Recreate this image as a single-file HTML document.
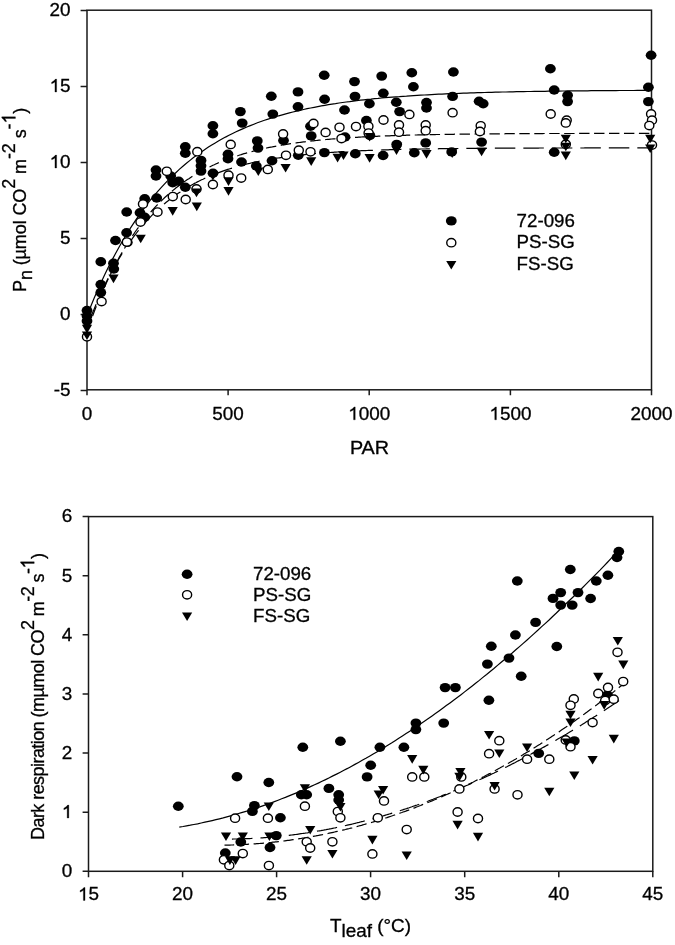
<!DOCTYPE html>
<html><head><meta charset="utf-8"><title>chart</title>
<style>html,body{margin:0;padding:0;background:#fff;}svg{display:block;filter:blur(0.35px);}</style>
</head><body>
<svg width="675" height="945" viewBox="0 0 675 945">
<rect width="675" height="945" fill="#fff"/>
<rect x="87" y="10.2" width="564.5" height="379.6" stroke="#1a1a1a" stroke-width="1.5" fill="none"/>
<path d="M80.6,390.4H87 M80.6,314.4H87 M80.6,238.4H87 M80.6,162.4H87 M80.6,86.4H87 M80.6,10.4H87 M87.0,389.8V395.3 M228.1,389.8V395.3 M369.2,389.8V395.3 M510.4,389.8V395.3 M651.5,389.8V395.3" stroke="#1a1a1a" stroke-width="1.5" fill="none"/>
<rect x="88.5" y="516.6" width="564.3" height="354.7" stroke="#1a1a1a" stroke-width="1.5" fill="none"/>
<path d="M82.6,871.3H88.5 M82.6,812.2H88.5 M82.6,753.1H88.5 M82.6,693.9H88.5 M82.6,634.8H88.5 M82.6,575.7H88.5 M82.6,516.6H88.5 M88.5,871.3V877.2 M182.6,871.3V877.2 M276.6,871.3V877.2 M370.6,871.3V877.2 M464.7,871.3V877.2 M558.8,871.3V877.2 M652.8,871.3V877.2" stroke="#1a1a1a" stroke-width="1.5" fill="none"/>
<path d="M87.0,315.7 L90.6,306.8 L94.1,298.2 L97.7,290.0 L101.2,282.2 L104.8,274.6 L108.3,267.3 L111.9,260.4 L115.4,253.7 L119.0,247.2 L122.5,241.0 L126.1,235.1 L129.6,229.4 L133.2,223.9 L136.7,218.6 L140.3,213.6 L143.8,208.7 L147.4,204.0 L150.9,199.5 L154.5,195.2 L158.0,191.1 L161.6,187.1 L165.1,183.3 L168.7,179.6 L172.2,176.1 L175.8,172.7 L179.3,169.4 L182.9,166.3 L186.4,163.3 L190.0,160.4 L193.5,157.6 L197.1,155.0 L200.6,152.4 L204.2,150.0 L207.7,147.6 L211.3,145.3 L214.8,143.2 L218.4,141.1 L221.9,139.1 L225.5,137.1 L229.0,135.3 L232.6,133.5 L236.1,131.8 L239.7,130.1 L243.2,128.6 L246.8,127.0 L250.3,125.6 L253.9,124.2 L257.4,122.8 L261.0,121.5 L264.5,120.3 L268.1,119.1 L271.6,118.0 L275.2,116.9 L278.7,115.8 L282.3,114.8 L285.8,113.8 L289.4,112.9 L292.9,112.0 L296.5,111.1 L300.0,110.3 L303.6,109.5 L307.1,108.7 L310.7,108.0 L314.2,107.3 L317.8,106.6 L321.3,105.9 L324.9,105.3 L328.4,104.7 L332.0,104.1 L335.5,103.6 L339.1,103.0 L342.6,102.5 L346.2,102.0 L349.7,101.6 L353.3,101.1 L356.8,100.7 L360.4,100.2 L363.9,99.8 L367.5,99.4 L371.0,99.1 L374.6,98.7 L378.1,98.4 L381.7,98.0 L385.2,97.7 L388.8,97.4 L392.3,97.1 L395.9,96.8 L399.4,96.6 L403.0,96.3 L406.5,96.1 L410.1,95.8 L413.6,95.6 L417.2,95.4 L420.7,95.2 L424.3,95.0 L427.8,94.8 L431.4,94.6 L434.9,94.4 L438.5,94.2 L442.0,94.1 L445.6,93.9 L449.1,93.7 L452.7,93.6 L456.2,93.5 L459.8,93.3 L463.3,93.2 L466.9,93.1 L470.4,92.9 L474.0,92.8 L477.5,92.7 L481.1,92.6 L484.6,92.5 L488.2,92.4 L491.7,92.3 L495.3,92.2 L498.8,92.1 L502.4,92.0 L505.9,92.0 L509.5,91.9 L513.0,91.8 L516.6,91.7 L520.1,91.7 L523.7,91.6 L527.2,91.5 L530.8,91.5 L534.3,91.4 L537.9,91.4 L541.4,91.3 L545.0,91.3 L548.5,91.2 L552.1,91.2 L555.6,91.1 L559.2,91.1 L562.7,91.0 L566.3,91.0 L569.8,90.9 L573.4,90.9 L576.9,90.9 L580.5,90.8 L584.0,90.8 L587.6,90.8 L591.1,90.7 L594.7,90.7 L598.2,90.7 L601.8,90.7 L605.3,90.6 L608.9,90.6 L612.4,90.6 L616.0,90.6 L619.5,90.5 L623.1,90.5 L626.6,90.5 L630.2,90.5 L633.7,90.5 L637.3,90.4 L640.8,90.4 L644.4,90.4 L647.9,90.4 L651.5,90.4" fill="none" stroke="#000" stroke-width="1.2"/>
<path d="M87.0,331.2 L88.4,327.2 L89.8,323.3 L91.2,319.5 L92.7,315.7 L94.1,312.0 L95.5,308.4 L96.9,304.8 L98.3,301.4 L99.7,298.0 L101.1,294.6 L102.6,291.4 L104.0,288.2 L105.4,285.0 L106.8,281.9 L108.2,278.9 L109.6,276.0 L111.1,273.1 L112.5,270.3 L113.9,267.5 L115.3,264.8 L116.7,262.1 L118.1,259.5 L119.5,256.9 L121.0,254.4 L122.4,252.0 L123.8,249.6 L125.2,247.2 L126.6,244.9 L128.0,242.7 L129.4,240.4 L130.9,238.3 L132.3,236.1 L133.7,234.1 L135.1,232.0 L136.5,230.0 L137.9,228.1 L139.3,226.1 L140.8,224.3 L142.2,222.4 L143.6,220.6 L145.0,218.9 L146.4,217.1 L147.8,215.4 L149.3,213.8 L150.7,212.1 L152.1,210.5 L153.5,209.0 L154.9,207.4 L156.3,205.9 L157.7,204.5 L159.2,203.0 L160.6,201.6 L162.0,200.2 L163.4,198.9 L164.8,197.5 L166.2,196.2 L167.6,195.0 L169.1,193.7 L170.5,192.5 L171.9,191.3 L173.3,190.1 L174.7,189.0 L176.1,187.8 L177.5,186.7 L179.0,185.7 L180.4,184.6 L181.8,183.6 L183.2,182.5 L184.6,181.5 L186.0,180.6 L187.4,179.6 L188.9,178.7 L190.3,177.7 L191.7,176.8 L193.1,176.0 L194.5,175.1 L195.9,174.3 L197.4,173.4 L198.8,172.6 L200.2,171.8 L201.6,171.0 L203.0,170.3 L204.4,169.5 L205.8,168.8 L207.3,168.1 L208.7,167.4 L210.1,166.7 L211.5,166.0 L212.9,165.3 L214.3,164.7 L215.7,164.0 L217.2,163.4 L218.6,162.8 L220.0,162.2 L221.4,161.6 L222.8,161.1 L224.2,160.5 L225.6,159.9 L227.1,159.4 L228.5,158.9 L229.9,158.4 L231.3,157.8 L232.7,157.3 L234.1,156.9 L235.6,156.4 L237.0,155.9 L238.4,155.5 L239.8,155.0 L241.2,154.6 L242.6,154.1 L244.0,153.7 L245.5,153.3 L246.9,152.9 L248.3,152.5 L249.7,152.1 L251.1,151.7 L252.5,151.4 L253.9,151.0 L255.4,150.6 L256.8,150.3 L258.2,149.9 L259.6,149.6 L261.0,149.3 L262.4,148.9 L263.8,148.6 L265.3,148.3 L266.7,148.0 L268.1,147.7 L269.5,147.4 L270.9,147.1 L272.3,146.9 L273.8,146.6 L275.2,146.3 L276.6,146.0 L278.0,145.8 L279.4,145.5 L280.8,145.3 L282.2,145.0 L283.7,144.8 L285.1,144.6 L286.5,144.3 L287.9,144.1 L289.3,143.9 L290.7,143.7 L292.1,143.5 L293.6,143.3 L295.0,143.1 L296.4,142.9 L297.8,142.7 L299.2,142.5 L300.6,142.3 L302.0,142.1 L303.5,141.9 L304.9,141.8 L306.3,141.6 L307.7,141.4 L309.1,141.3 L310.5,141.1 L312.0,140.9 L313.4,140.8 L314.8,140.6 L316.2,140.5 L317.6,140.3 L319.0,140.2 L320.4,140.1 L321.9,139.9 L323.3,139.8 L324.7,139.6 L326.1,139.5 L327.5,139.4 L328.9,139.3 L330.3,139.1 L331.8,139.0 L333.2,138.9 L334.6,138.8 L336.0,138.7 L337.4,138.6 L338.8,138.5 L340.2,138.4 L341.7,138.3 L343.1,138.2 L344.5,138.1 L345.9,138.0 L347.3,137.9 L348.7,137.8 L350.2,137.7 L351.6,137.6 L353.0,137.5 L354.4,137.4 L355.8,137.3 L357.2,137.3 L358.6,137.2 L360.1,137.1 L361.5,137.0 L362.9,136.9 L364.3,136.9 L365.7,136.8 L367.1,136.7 L368.5,136.7 L370.0,136.6 L371.4,136.5 L372.8,136.5 L374.2,136.4 L375.6,136.3 L377.0,136.3 L378.4,136.2 L379.9,136.1 L381.3,136.1 L382.7,136.0 L384.1,136.0 L385.5,135.9 L386.9,135.9 L388.3,135.8 L389.8,135.8 L391.2,135.7 L392.6,135.7 L394.0,135.6 L395.4,135.6 L396.8,135.5 L398.3,135.5 L399.7,135.4 L401.1,135.4 L402.5,135.3 L403.9,135.3 L405.3,135.3 L406.7,135.2 L408.2,135.2 L409.6,135.1 L411.0,135.1 L412.4,135.1 L413.8,135.0 L415.2,135.0 L416.6,135.0 L418.1,134.9 L419.5,134.9 L420.9,134.9 L422.3,134.8 L423.7,134.8 L425.1,134.8 L426.5,134.7 L428.0,134.7 L429.4,134.7 L430.8,134.7 L432.2,134.6 L433.6,134.6 L435.0,134.6 L436.5,134.5 L437.9,134.5 L439.3,134.5 L440.7,134.5 L442.1,134.4 L443.5,134.4 L444.9,134.4 L446.4,134.4 L447.8,134.4 L449.2,134.3 L450.6,134.3 L452.0,134.3 L453.4,134.3 L454.8,134.2 L456.3,134.2 L457.7,134.2 L459.1,134.2 L460.5,134.2 L461.9,134.2 L463.3,134.1 L464.7,134.1 L466.2,134.1 L467.6,134.1 L469.0,134.1 L470.4,134.1 L471.8,134.0 L473.2,134.0 L474.7,134.0 L476.1,134.0 L477.5,134.0 L478.9,134.0 L480.3,134.0 L481.7,133.9 L483.1,133.9 L484.6,133.9 L486.0,133.9 L487.4,133.9 L488.8,133.9 L490.2,133.9 L491.6,133.8 L493.0,133.8 L494.5,133.8 L495.9,133.8 L497.3,133.8 L498.7,133.8 L500.1,133.8 L501.5,133.8 L502.9,133.8 L504.4,133.8 L505.8,133.7 L507.2,133.7 L508.6,133.7 L510.0,133.7 L511.4,133.7 L512.9,133.7 L514.3,133.7 L515.7,133.7 L517.1,133.7 L518.5,133.7 L519.9,133.7 L521.3,133.7 L522.8,133.6 L524.2,133.6 L525.6,133.6 L527.0,133.6 L528.4,133.6 L529.8,133.6 L531.2,133.6 L532.7,133.6 L534.1,133.6 L535.5,133.6 L536.9,133.6 L538.3,133.6 L539.7,133.6 L541.1,133.6 L542.6,133.6 L544.0,133.5 L545.4,133.5 L546.8,133.5 L548.2,133.5 L549.6,133.5 L551.1,133.5 L552.5,133.5 L553.9,133.5 L555.3,133.5 L556.7,133.5 L558.1,133.5 L559.5,133.5 L561.0,133.5 L562.4,133.5 L563.8,133.5 L565.2,133.5 L566.6,133.5 L568.0,133.5 L569.4,133.5 L570.9,133.5 L572.3,133.5 L573.7,133.5 L575.1,133.5 L576.5,133.4 L577.9,133.4 L579.3,133.4 L580.8,133.4 L582.2,133.4 L583.6,133.4 L585.0,133.4 L586.4,133.4 L587.8,133.4 L589.2,133.4 L590.7,133.4 L592.1,133.4 L593.5,133.4 L594.9,133.4 L596.3,133.4 L597.7,133.4 L599.2,133.4 L600.6,133.4 L602.0,133.4 L603.4,133.4 L604.8,133.4 L606.2,133.4 L607.6,133.4 L609.1,133.4 L610.5,133.4 L611.9,133.4 L613.3,133.4 L614.7,133.4 L616.1,133.4 L617.5,133.4 L619.0,133.4 L620.4,133.4 L621.8,133.4 L623.2,133.4 L624.6,133.4 L626.0,133.4 L627.4,133.4 L628.9,133.4 L630.3,133.4 L631.7,133.4 L633.1,133.4 L634.5,133.4 L635.9,133.4 L637.4,133.3 L638.8,133.3 L640.2,133.3 L641.6,133.3 L643.0,133.3 L644.4,133.3 L645.8,133.3 L647.3,133.3 L648.7,133.3 L650.1,133.3 L651.5,133.3" fill="none" stroke="#000" stroke-width="1.2" stroke-dasharray="10.4 4.55" stroke-dashoffset="13.70"/>
<path d="M87.0,327.3 L88.4,323.5 L89.8,319.8 L91.2,316.2 L92.7,312.6 L94.1,309.2 L95.5,305.8 L96.9,302.4 L98.3,299.2 L99.7,296.0 L101.1,292.9 L102.6,289.8 L104.0,286.8 L105.4,283.9 L106.8,281.0 L108.2,278.2 L109.6,275.5 L111.1,272.8 L112.5,270.1 L113.9,267.6 L115.3,265.0 L116.7,262.6 L118.1,260.2 L119.5,257.8 L121.0,255.5 L122.4,253.2 L123.8,251.0 L125.2,248.8 L126.6,246.7 L128.0,244.6 L129.4,242.6 L130.9,240.6 L132.3,238.6 L133.7,236.7 L135.1,234.8 L136.5,233.0 L137.9,231.2 L139.3,229.5 L140.8,227.7 L142.2,226.1 L143.6,224.4 L145.0,222.8 L146.4,221.2 L147.8,219.7 L149.3,218.2 L150.7,216.7 L152.1,215.2 L153.5,213.8 L154.9,212.4 L156.3,211.1 L157.7,209.7 L159.2,208.4 L160.6,207.1 L162.0,205.9 L163.4,204.7 L164.8,203.5 L166.2,202.3 L167.6,201.2 L169.1,200.0 L170.5,198.9 L171.9,197.9 L173.3,196.8 L174.7,195.8 L176.1,194.8 L177.5,193.8 L179.0,192.8 L180.4,191.9 L181.8,190.9 L183.2,190.0 L184.6,189.1 L186.0,188.3 L187.4,187.4 L188.9,186.6 L190.3,185.8 L191.7,185.0 L193.1,184.2 L194.5,183.4 L195.9,182.7 L197.4,181.9 L198.8,181.2 L200.2,180.5 L201.6,179.8 L203.0,179.2 L204.4,178.5 L205.8,177.8 L207.3,177.2 L208.7,176.6 L210.1,176.0 L211.5,175.4 L212.9,174.8 L214.3,174.3 L215.7,173.7 L217.2,173.2 L218.6,172.6 L220.0,172.1 L221.4,171.6 L222.8,171.1 L224.2,170.6 L225.6,170.1 L227.1,169.6 L228.5,169.2 L229.9,168.7 L231.3,168.3 L232.7,167.9 L234.1,167.4 L235.6,167.0 L237.0,166.6 L238.4,166.2 L239.8,165.8 L241.2,165.5 L242.6,165.1 L244.0,164.7 L245.5,164.4 L246.9,164.0 L248.3,163.7 L249.7,163.4 L251.1,163.0 L252.5,162.7 L253.9,162.4 L255.4,162.1 L256.8,161.8 L258.2,161.5 L259.6,161.2 L261.0,160.9 L262.4,160.7 L263.8,160.4 L265.3,160.1 L266.7,159.9 L268.1,159.6 L269.5,159.4 L270.9,159.1 L272.3,158.9 L273.8,158.6 L275.2,158.4 L276.6,158.2 L278.0,158.0 L279.4,157.8 L280.8,157.6 L282.2,157.4 L283.7,157.2 L285.1,157.0 L286.5,156.8 L287.9,156.6 L289.3,156.4 L290.7,156.2 L292.1,156.0 L293.6,155.9 L295.0,155.7 L296.4,155.5 L297.8,155.4 L299.2,155.2 L300.6,155.1 L302.0,154.9 L303.5,154.8 L304.9,154.6 L306.3,154.5 L307.7,154.3 L309.1,154.2 L310.5,154.1 L312.0,153.9 L313.4,153.8 L314.8,153.7 L316.2,153.5 L317.6,153.4 L319.0,153.3 L320.4,153.2 L321.9,153.1 L323.3,153.0 L324.7,152.9 L326.1,152.8 L327.5,152.7 L328.9,152.6 L330.3,152.5 L331.8,152.4 L333.2,152.3 L334.6,152.2 L336.0,152.1 L337.4,152.0 L338.8,151.9 L340.2,151.8 L341.7,151.7 L343.1,151.7 L344.5,151.6 L345.9,151.5 L347.3,151.4 L348.7,151.3 L350.2,151.3 L351.6,151.2 L353.0,151.1 L354.4,151.1 L355.8,151.0 L357.2,150.9 L358.6,150.9 L360.1,150.8 L361.5,150.7 L362.9,150.7 L364.3,150.6 L365.7,150.6 L367.1,150.5 L368.5,150.4 L370.0,150.4 L371.4,150.3 L372.8,150.3 L374.2,150.2 L375.6,150.2 L377.0,150.1 L378.4,150.1 L379.9,150.0 L381.3,150.0 L382.7,149.9 L384.1,149.9 L385.5,149.9 L386.9,149.8 L388.3,149.8 L389.8,149.7 L391.2,149.7 L392.6,149.7 L394.0,149.6 L395.4,149.6 L396.8,149.5 L398.3,149.5 L399.7,149.5 L401.1,149.4 L402.5,149.4 L403.9,149.4 L405.3,149.3 L406.7,149.3 L408.2,149.3 L409.6,149.2 L411.0,149.2 L412.4,149.2 L413.8,149.2 L415.2,149.1 L416.6,149.1 L418.1,149.1 L419.5,149.1 L420.9,149.0 L422.3,149.0 L423.7,149.0 L425.1,149.0 L426.5,148.9 L428.0,148.9 L429.4,148.9 L430.8,148.9 L432.2,148.8 L433.6,148.8 L435.0,148.8 L436.5,148.8 L437.9,148.8 L439.3,148.7 L440.7,148.7 L442.1,148.7 L443.5,148.7 L444.9,148.7 L446.4,148.7 L447.8,148.6 L449.2,148.6 L450.6,148.6 L452.0,148.6 L453.4,148.6 L454.8,148.6 L456.3,148.5 L457.7,148.5 L459.1,148.5 L460.5,148.5 L461.9,148.5 L463.3,148.5 L464.7,148.5 L466.2,148.4 L467.6,148.4 L469.0,148.4 L470.4,148.4 L471.8,148.4 L473.2,148.4 L474.7,148.4 L476.1,148.4 L477.5,148.4 L478.9,148.3 L480.3,148.3 L481.7,148.3 L483.1,148.3 L484.6,148.3 L486.0,148.3 L487.4,148.3 L488.8,148.3 L490.2,148.3 L491.6,148.3 L493.0,148.2 L494.5,148.2 L495.9,148.2 L497.3,148.2 L498.7,148.2 L500.1,148.2 L501.5,148.2 L502.9,148.2 L504.4,148.2 L505.8,148.2 L507.2,148.2 L508.6,148.2 L510.0,148.2 L511.4,148.2 L512.9,148.1 L514.3,148.1 L515.7,148.1 L517.1,148.1 L518.5,148.1 L519.9,148.1 L521.3,148.1 L522.8,148.1 L524.2,148.1 L525.6,148.1 L527.0,148.1 L528.4,148.1 L529.8,148.1 L531.2,148.1 L532.7,148.1 L534.1,148.1 L535.5,148.1 L536.9,148.1 L538.3,148.1 L539.7,148.0 L541.1,148.0 L542.6,148.0 L544.0,148.0 L545.4,148.0 L546.8,148.0 L548.2,148.0 L549.6,148.0 L551.1,148.0 L552.5,148.0 L553.9,148.0 L555.3,148.0 L556.7,148.0 L558.1,148.0 L559.5,148.0 L561.0,148.0 L562.4,148.0 L563.8,148.0 L565.2,148.0 L566.6,148.0 L568.0,148.0 L569.4,148.0 L570.9,148.0 L572.3,148.0 L573.7,148.0 L575.1,148.0 L576.5,148.0 L577.9,148.0 L579.3,148.0 L580.8,148.0 L582.2,148.0 L583.6,148.0 L585.0,147.9 L586.4,147.9 L587.8,147.9 L589.2,147.9 L590.7,147.9 L592.1,147.9 L593.5,147.9 L594.9,147.9 L596.3,147.9 L597.7,147.9 L599.2,147.9 L600.6,147.9 L602.0,147.9 L603.4,147.9 L604.8,147.9 L606.2,147.9 L607.6,147.9 L609.1,147.9 L610.5,147.9 L611.9,147.9 L613.3,147.9 L614.7,147.9 L616.1,147.9 L617.5,147.9 L619.0,147.9 L620.4,147.9 L621.8,147.9 L623.2,147.9 L624.6,147.9 L626.0,147.9 L627.4,147.9 L628.9,147.9 L630.3,147.9 L631.7,147.9 L633.1,147.9 L634.5,147.9 L635.9,147.9 L637.4,147.9 L638.8,147.9 L640.2,147.9 L641.6,147.9 L643.0,147.9 L644.4,147.9 L645.8,147.9 L647.3,147.9 L648.7,147.9 L650.1,147.9 L651.5,147.9" fill="none" stroke="#000" stroke-width="1.2" stroke-dasharray="20.5 8.0" stroke-dashoffset="24.14"/>
<path d="M179.3,827.1 L183.0,826.5 L186.6,825.8 L190.3,825.2 L193.9,824.5 L197.6,823.8 L201.2,823.0 L204.9,822.2 L208.6,821.4 L212.2,820.6 L215.9,819.7 L219.5,818.8 L223.2,817.9 L226.9,816.9 L230.5,815.9 L234.2,814.9 L237.8,813.8 L241.5,812.7 L245.1,811.6 L248.8,810.5 L252.5,809.3 L256.1,808.1 L259.8,806.9 L263.4,805.6 L267.1,804.3 L270.7,803.0 L274.4,801.6 L278.1,800.2 L281.7,798.8 L285.4,797.4 L289.0,795.9 L292.7,794.4 L296.4,792.9 L300.0,791.3 L303.7,789.7 L307.3,788.1 L311.0,786.4 L314.6,784.8 L318.3,783.1 L322.0,781.3 L325.6,779.6 L329.3,777.8 L332.9,775.9 L336.6,774.1 L340.3,772.2 L343.9,770.3 L347.6,768.4 L351.2,766.4 L354.9,764.4 L358.5,762.4 L362.2,760.3 L365.9,758.3 L369.5,756.2 L373.2,754.0 L376.8,751.9 L380.5,749.7 L384.1,747.5 L387.8,745.2 L391.5,743.0 L395.1,740.7 L398.8,738.3 L402.4,736.0 L406.1,733.6 L409.8,731.2 L413.4,728.8 L417.1,726.3 L420.7,723.8 L424.4,721.3 L428.0,718.8 L431.7,716.2 L435.4,713.6 L439.0,711.0 L442.7,708.3 L446.3,705.6 L450.0,702.9 L453.6,700.2 L457.3,697.5 L461.0,694.7 L464.6,691.9 L468.3,689.0 L471.9,686.2 L475.6,683.3 L479.3,680.4 L482.9,677.4 L486.6,674.5 L490.2,671.5 L493.9,668.5 L497.5,665.4 L501.2,662.3 L504.9,659.3 L508.5,656.1 L512.2,653.0 L515.8,649.8 L519.5,646.6 L523.2,643.4 L526.8,640.2 L530.5,636.9 L534.1,633.6 L537.8,630.3 L541.4,626.9 L545.1,623.6 L548.8,620.2 L552.4,616.7 L556.1,613.3 L559.7,609.8 L563.4,606.3 L567.0,602.8 L570.7,599.3 L574.4,595.7 L578.0,592.1 L581.7,588.5 L585.3,584.9 L589.0,581.2 L592.7,577.5 L596.3,573.8 L600.0,570.1 L603.6,566.3 L607.3,562.5 L610.9,558.7 L614.6,554.9" fill="none" stroke="#000" stroke-width="1.2"/>
<path d="M224.5,845.2 L225.8,845.2 L227.2,845.1 L228.5,845.1 L229.9,845.1 L231.2,845.0 L232.6,845.0 L233.9,844.9 L235.2,844.9 L236.6,844.9 L237.9,844.8 L239.3,844.7 L240.6,844.7 L242.0,844.6 L243.3,844.5 L244.6,844.5 L246.0,844.4 L247.3,844.3 L248.7,844.2 L250.0,844.2 L251.4,844.1 L252.7,844.0 L254.0,843.9 L255.4,843.8 L256.7,843.7 L258.1,843.6 L259.4,843.5 L260.8,843.4 L262.1,843.3 L263.4,843.1 L264.8,843.0 L266.1,842.9 L267.5,842.8 L268.8,842.6 L270.2,842.5 L271.5,842.4 L272.8,842.2 L274.2,842.1 L275.5,841.9 L276.9,841.8 L278.2,841.6 L279.6,841.5 L280.9,841.3 L282.2,841.1 L283.6,841.0 L284.9,840.8 L286.3,840.6 L287.6,840.4 L289.0,840.3 L290.3,840.1 L291.6,839.9 L293.0,839.7 L294.3,839.5 L295.7,839.3 L297.0,839.1 L298.4,838.9 L299.7,838.7 L301.0,838.5 L302.4,838.2 L303.7,838.0 L305.1,837.8 L306.4,837.6 L307.8,837.3 L309.1,837.1 L310.4,836.9 L311.8,836.6 L313.1,836.4 L314.5,836.1 L315.8,835.9 L317.2,835.6 L318.5,835.4 L319.8,835.1 L321.2,834.8 L322.5,834.6 L323.9,834.3 L325.2,834.0 L326.6,833.7 L327.9,833.5 L329.2,833.2 L330.6,832.9 L331.9,832.6 L333.3,832.3 L334.6,832.0 L336.0,831.7 L337.3,831.4 L338.6,831.1 L340.0,830.8 L341.3,830.4 L342.7,830.1 L344.0,829.8 L345.4,829.5 L346.7,829.1 L348.0,828.8 L349.4,828.5 L350.7,828.1 L352.1,827.8 L353.4,827.4 L354.8,827.1 L356.1,826.7 L357.4,826.4 L358.8,826.0 L360.1,825.6 L361.5,825.3 L362.8,824.9 L364.2,824.5 L365.5,824.1 L366.8,823.7 L368.2,823.4 L369.5,823.0 L370.9,822.6 L372.2,822.2 L373.6,821.8 L374.9,821.4 L376.2,821.0 L377.6,820.5 L378.9,820.1 L380.3,819.7 L381.6,819.3 L383.0,818.9 L384.3,818.4 L385.6,818.0 L387.0,817.6 L388.3,817.1 L389.7,816.7 L391.0,816.2 L392.4,815.8 L393.7,815.3 L395.0,814.9 L396.4,814.4 L397.7,813.9 L399.1,813.5 L400.4,813.0 L401.8,812.5 L403.1,812.0 L404.4,811.6 L405.8,811.1 L407.1,810.6 L408.5,810.1 L409.8,809.6 L411.2,809.1 L412.5,808.6 L413.8,808.1 L415.2,807.6 L416.5,807.0 L417.9,806.5 L419.2,806.0 L420.6,805.5 L421.9,804.9 L423.2,804.4 L424.6,803.9 L425.9,803.3 L427.3,802.8 L428.6,802.2 L429.9,801.7 L431.3,801.1 L432.6,800.6 L434.0,800.0 L435.3,799.5 L436.7,798.9 L438.0,798.3 L439.3,797.7 L440.7,797.2 L442.0,796.6 L443.4,796.0 L444.7,795.4 L446.1,794.8 L447.4,794.2 L448.7,793.6 L450.1,793.0 L451.4,792.4 L452.8,791.8 L454.1,791.2 L455.5,790.5 L456.8,789.9 L458.1,789.3 L459.5,788.7 L460.8,788.0 L462.2,787.4 L463.5,786.7 L464.9,786.1 L466.2,785.5 L467.5,784.8 L468.9,784.1 L470.2,783.5 L471.6,782.8 L472.9,782.2 L474.3,781.5 L475.6,780.8 L476.9,780.1 L478.3,779.5 L479.6,778.8 L481.0,778.1 L482.3,777.4 L483.7,776.7 L485.0,776.0 L486.3,775.3 L487.7,774.6 L489.0,773.9 L490.4,773.2 L491.7,772.4 L493.1,771.7 L494.4,771.0 L495.7,770.3 L497.1,769.5 L498.4,768.8 L499.8,768.1 L501.1,767.3 L502.5,766.6 L503.8,765.8 L505.1,765.1 L506.5,764.3 L507.8,763.5 L509.2,762.8 L510.5,762.0 L511.9,761.2 L513.2,760.5 L514.5,759.7 L515.9,758.9 L517.2,758.1 L518.6,757.3 L519.9,756.5 L521.3,755.7 L522.6,754.9 L523.9,754.1 L525.3,753.3 L526.6,752.5 L528.0,751.7 L529.3,750.9 L530.7,750.0 L532.0,749.2 L533.3,748.4 L534.7,747.5 L536.0,746.7 L537.4,745.8 L538.7,745.0 L540.1,744.2 L541.4,743.3 L542.7,742.4 L544.1,741.6 L545.4,740.7 L546.8,739.8 L548.1,739.0 L549.5,738.1 L550.8,737.2 L552.1,736.3 L553.5,735.4 L554.8,734.6 L556.2,733.7 L557.5,732.8 L558.9,731.9 L560.2,730.9 L561.5,730.0 L562.9,729.1 L564.2,728.2 L565.6,727.3 L566.9,726.4 L568.3,725.4 L569.6,724.5 L570.9,723.6 L572.3,722.6 L573.6,721.7 L575.0,720.7 L576.3,719.8 L577.7,718.8 L579.0,717.9 L580.3,716.9 L581.7,715.9 L583.0,715.0 L584.4,714.0 L585.7,713.0 L587.1,712.0 L588.4,711.0 L589.7,710.1 L591.1,709.1 L592.4,708.1 L593.8,707.1 L595.1,706.1 L596.5,705.1 L597.8,704.0 L599.1,703.0 L600.5,702.0 L601.8,701.0 L603.2,700.0 L604.5,698.9 L605.9,697.9 L607.2,696.9 L608.5,695.8 L609.9,694.8 L611.2,693.7 L612.6,692.7 L613.9,691.6 L615.3,690.6 L616.6,689.5 L617.9,688.4 L619.3,687.3 L620.6,686.3 L622.0,685.2 L623.3,684.1 L624.7,683.0 L626.0,681.9" fill="none" stroke="#000" stroke-width="1.2" stroke-dasharray="10.4 4.55" stroke-dashoffset="0.74"/>
<path d="M224.5,839.1 L225.8,839.1 L227.1,839.1 L228.5,839.1 L229.8,839.1 L231.1,839.1 L232.4,839.1 L233.7,839.0 L235.1,839.0 L236.4,839.0 L237.7,839.0 L239.0,838.9 L240.3,838.9 L241.7,838.9 L243.0,838.8 L244.3,838.8 L245.6,838.7 L246.9,838.7 L248.2,838.6 L249.6,838.6 L250.9,838.5 L252.2,838.4 L253.5,838.4 L254.8,838.3 L256.2,838.2 L257.5,838.1 L258.8,838.1 L260.1,838.0 L261.4,837.9 L262.8,837.8 L264.1,837.7 L265.4,837.6 L266.7,837.5 L268.0,837.4 L269.4,837.3 L270.7,837.2 L272.0,837.1 L273.3,837.0 L274.6,836.8 L276.0,836.7 L277.3,836.6 L278.6,836.5 L279.9,836.3 L281.2,836.2 L282.6,836.0 L283.9,835.9 L285.2,835.8 L286.5,835.6 L287.8,835.4 L289.2,835.3 L290.5,835.1 L291.8,835.0 L293.1,834.8 L294.4,834.6 L295.7,834.5 L297.1,834.3 L298.4,834.1 L299.7,833.9 L301.0,833.7 L302.3,833.5 L303.7,833.3 L305.0,833.2 L306.3,833.0 L307.6,832.8 L308.9,832.5 L310.3,832.3 L311.6,832.1 L312.9,831.9 L314.2,831.7 L315.5,831.5 L316.9,831.2 L318.2,831.0 L319.5,830.8 L320.8,830.6 L322.1,830.3 L323.5,830.1 L324.8,829.8 L326.1,829.6 L327.4,829.3 L328.7,829.1 L330.1,828.8 L331.4,828.6 L332.7,828.3 L334.0,828.0 L335.3,827.8 L336.6,827.5 L338.0,827.2 L339.3,826.9 L340.6,826.7 L341.9,826.4 L343.2,826.1 L344.6,825.8 L345.9,825.5 L347.2,825.2 L348.5,824.9 L349.8,824.6 L351.2,824.3 L352.5,824.0 L353.8,823.7 L355.1,823.3 L356.4,823.0 L357.8,822.7 L359.1,822.4 L360.4,822.0 L361.7,821.7 L363.0,821.4 L364.4,821.0 L365.7,820.7 L367.0,820.3 L368.3,820.0 L369.6,819.6 L371.0,819.3 L372.3,818.9 L373.6,818.6 L374.9,818.2 L376.2,817.8 L377.6,817.5 L378.9,817.1 L380.2,816.7 L381.5,816.3 L382.8,816.0 L384.1,815.6 L385.5,815.2 L386.8,814.8 L388.1,814.4 L389.4,814.0 L390.7,813.6 L392.1,813.2 L393.4,812.8 L394.7,812.4 L396.0,812.0 L397.3,811.6 L398.7,811.1 L400.0,810.7 L401.3,810.3 L402.6,809.9 L403.9,809.4 L405.3,809.0 L406.6,808.6 L407.9,808.1 L409.2,807.7 L410.5,807.2 L411.9,806.8 L413.2,806.3 L414.5,805.9 L415.8,805.4 L417.1,805.0 L418.5,804.5 L419.8,804.0 L421.1,803.6 L422.4,803.1 L423.7,802.6 L425.0,802.1 L426.4,801.6 L427.7,801.2 L429.0,800.7 L430.3,800.2 L431.6,799.7 L433.0,799.2 L434.3,798.7 L435.6,798.2 L436.9,797.7 L438.2,797.2 L439.6,796.7 L440.9,796.2 L442.2,795.6 L443.5,795.1 L444.8,794.6 L446.2,794.1 L447.5,793.5 L448.8,793.0 L450.1,792.5 L451.4,791.9 L452.8,791.4 L454.1,790.8 L455.4,790.3 L456.7,789.7 L458.0,789.2 L459.4,788.6 L460.7,788.1 L462.0,787.5 L463.3,787.0 L464.6,786.4 L465.9,785.8 L467.3,785.2 L468.6,784.7 L469.9,784.1 L471.2,783.5 L472.5,782.9 L473.9,782.3 L475.2,781.7 L476.5,781.1 L477.8,780.5 L479.1,779.9 L480.5,779.3 L481.8,778.7 L483.1,778.1 L484.4,777.5 L485.7,776.9 L487.1,776.3 L488.4,775.7 L489.7,775.1 L491.0,774.4 L492.3,773.8 L493.7,773.2 L495.0,772.5 L496.3,771.9 L497.6,771.3 L498.9,770.6 L500.3,770.0 L501.6,769.3 L502.9,768.7 L504.2,768.0 L505.5,767.4 L506.9,766.7 L508.2,766.0 L509.5,765.4 L510.8,764.7 L512.1,764.0 L513.4,763.4 L514.8,762.7 L516.1,762.0 L517.4,761.3 L518.7,760.6 L520.0,760.0 L521.4,759.3 L522.7,758.6 L524.0,757.9 L525.3,757.2 L526.6,756.5 L528.0,755.8 L529.3,755.1 L530.6,754.4 L531.9,753.6 L533.2,752.9 L534.6,752.2 L535.9,751.5 L537.2,750.8 L538.5,750.0 L539.8,749.3 L541.2,748.6 L542.5,747.8 L543.8,747.1 L545.1,746.4 L546.4,745.6 L547.8,744.9 L549.1,744.1 L550.4,743.4 L551.7,742.6 L553.0,741.9 L554.3,741.1 L555.7,740.4 L557.0,739.6 L558.3,738.8 L559.6,738.1 L560.9,737.3 L562.3,736.5 L563.6,735.7 L564.9,734.9 L566.2,734.2 L567.5,733.4 L568.9,732.6 L570.2,731.8 L571.5,731.0 L572.8,730.2 L574.1,729.4 L575.5,728.6 L576.8,727.8 L578.1,727.0 L579.4,726.2 L580.7,725.4 L582.1,724.6 L583.4,723.7 L584.7,722.9 L586.0,722.1 L587.3,721.3 L588.7,720.4 L590.0,719.6 L591.3,718.8 L592.6,717.9 L593.9,717.1 L595.3,716.3 L596.6,715.4 L597.9,714.6 L599.2,713.7 L600.5,712.9 L601.8,712.0 L603.2,711.1 L604.5,710.3 L605.8,709.4 L607.1,708.6 L608.4,707.7 L609.8,706.8 L611.1,705.9 L612.4,705.1 L613.7,704.2 L615.0,703.3 L616.4,702.4 L617.7,701.5 L619.0,700.6" fill="none" stroke="#000" stroke-width="1.2" stroke-dasharray="20.5 8.0" stroke-dashoffset="21.06"/>
<g fill="#000"><ellipse cx="87.0" cy="310.5" rx="5.4" ry="4.7"/><ellipse cx="87.0" cy="316.0" rx="5.4" ry="4.7"/><ellipse cx="87.0" cy="321.0" rx="5.4" ry="4.7"/><ellipse cx="100.8" cy="284.5" rx="5.4" ry="4.7"/><ellipse cx="100.8" cy="261.7" rx="5.4" ry="4.7"/><ellipse cx="100.8" cy="292.6" rx="5.4" ry="4.7"/><ellipse cx="113.5" cy="263.3" rx="5.4" ry="4.7"/><ellipse cx="113.8" cy="269.0" rx="5.4" ry="4.7"/><ellipse cx="115.5" cy="240.5" rx="5.4" ry="4.7"/><ellipse cx="126.6" cy="232.8" rx="5.4" ry="4.7"/><ellipse cx="127.3" cy="242.4" rx="5.4" ry="4.7"/><ellipse cx="126.7" cy="212.0" rx="5.4" ry="4.7"/><ellipse cx="140.0" cy="212.7" rx="5.4" ry="4.7"/><ellipse cx="144.7" cy="217.3" rx="5.4" ry="4.7"/><ellipse cx="144.7" cy="198.7" rx="5.4" ry="4.7"/><ellipse cx="156.7" cy="198.0" rx="5.4" ry="4.7"/><ellipse cx="156.0" cy="170.0" rx="5.4" ry="4.7"/><ellipse cx="156.0" cy="176.0" rx="5.4" ry="4.7"/><ellipse cx="170.7" cy="176.0" rx="5.4" ry="4.7"/><ellipse cx="172.7" cy="182.7" rx="5.4" ry="4.7"/><ellipse cx="178.7" cy="181.3" rx="5.4" ry="4.7"/><ellipse cx="185.3" cy="187.3" rx="5.4" ry="4.7"/><ellipse cx="185.3" cy="146.7" rx="5.4" ry="4.7"/><ellipse cx="185.3" cy="153.3" rx="5.4" ry="4.7"/><ellipse cx="201.0" cy="160.4" rx="5.4" ry="4.7"/><ellipse cx="201.0" cy="165.8" rx="5.4" ry="4.7"/><ellipse cx="201.0" cy="171.1" rx="5.4" ry="4.7"/><ellipse cx="212.9" cy="125.8" rx="5.4" ry="4.7"/><ellipse cx="212.9" cy="133.8" rx="5.4" ry="4.7"/><ellipse cx="213.0" cy="173.3" rx="5.4" ry="4.7"/><ellipse cx="228.0" cy="154.2" rx="5.4" ry="4.7"/><ellipse cx="228.0" cy="158.7" rx="5.4" ry="4.7"/><ellipse cx="240.4" cy="111.6" rx="5.4" ry="4.7"/><ellipse cx="242.2" cy="123.1" rx="5.4" ry="4.7"/><ellipse cx="241.5" cy="162.0" rx="5.4" ry="4.7"/><ellipse cx="257.3" cy="140.9" rx="5.4" ry="4.7"/><ellipse cx="258.0" cy="148.1" rx="5.4" ry="4.7"/><ellipse cx="256.3" cy="166.0" rx="5.4" ry="4.7"/><ellipse cx="271.3" cy="96.3" rx="5.4" ry="4.7"/><ellipse cx="272.8" cy="114.1" rx="5.4" ry="4.7"/><ellipse cx="272.0" cy="160.7" rx="5.4" ry="4.7"/><ellipse cx="283.5" cy="140.5" rx="5.4" ry="4.7"/><ellipse cx="298.0" cy="91.9" rx="5.4" ry="4.7"/><ellipse cx="298.0" cy="106.7" rx="5.4" ry="4.7"/><ellipse cx="298.3" cy="155.2" rx="5.4" ry="4.7"/><ellipse cx="310.5" cy="126.2" rx="5.4" ry="4.7"/><ellipse cx="311.2" cy="135.9" rx="5.4" ry="4.7"/><ellipse cx="324.6" cy="99.3" rx="5.4" ry="4.7"/><ellipse cx="324.2" cy="75.2" rx="5.4" ry="4.7"/><ellipse cx="324.4" cy="152.6" rx="5.4" ry="4.7"/><ellipse cx="344.5" cy="110.0" rx="5.4" ry="4.7"/><ellipse cx="345.0" cy="137.0" rx="5.4" ry="4.7"/><ellipse cx="354.5" cy="81.6" rx="5.4" ry="4.7"/><ellipse cx="355.0" cy="96.4" rx="5.4" ry="4.7"/><ellipse cx="355.3" cy="153.7" rx="5.4" ry="4.7"/><ellipse cx="366.4" cy="120.5" rx="5.4" ry="4.7"/><ellipse cx="369.4" cy="103.8" rx="5.4" ry="4.7"/><ellipse cx="369.9" cy="135.5" rx="5.4" ry="4.7"/><ellipse cx="381.7" cy="76.1" rx="5.4" ry="4.7"/><ellipse cx="383.3" cy="93.2" rx="5.4" ry="4.7"/><ellipse cx="383.1" cy="155.5" rx="5.4" ry="4.7"/><ellipse cx="396.3" cy="102.2" rx="5.4" ry="4.7"/><ellipse cx="399.6" cy="111.6" rx="5.4" ry="4.7"/><ellipse cx="396.7" cy="144.4" rx="5.4" ry="4.7"/><ellipse cx="411.8" cy="72.8" rx="5.4" ry="4.7"/><ellipse cx="413.4" cy="86.7" rx="5.4" ry="4.7"/><ellipse cx="414.3" cy="152.7" rx="5.4" ry="4.7"/><ellipse cx="426.5" cy="102.5" rx="5.4" ry="4.7"/><ellipse cx="426.5" cy="108.0" rx="5.4" ry="4.7"/><ellipse cx="425.7" cy="142.9" rx="5.4" ry="4.7"/><ellipse cx="453.4" cy="72.0" rx="5.4" ry="4.7"/><ellipse cx="452.6" cy="96.4" rx="5.4" ry="4.7"/><ellipse cx="451.7" cy="151.9" rx="5.4" ry="4.7"/><ellipse cx="479.1" cy="101.3" rx="5.4" ry="4.7"/><ellipse cx="483.2" cy="103.8" rx="5.4" ry="4.7"/><ellipse cx="481.6" cy="142.1" rx="5.4" ry="4.7"/><ellipse cx="550.4" cy="68.7" rx="5.4" ry="4.7"/><ellipse cx="554.2" cy="90.0" rx="5.4" ry="4.7"/><ellipse cx="567.6" cy="95.3" rx="5.4" ry="4.7"/><ellipse cx="567.6" cy="101.6" rx="5.4" ry="4.7"/><ellipse cx="554.2" cy="152.2" rx="5.4" ry="4.7"/><ellipse cx="651.1" cy="55.3" rx="5.4" ry="4.7"/><ellipse cx="648.4" cy="87.3" rx="5.4" ry="4.7"/><ellipse cx="648.4" cy="101.6" rx="5.4" ry="4.7"/></g>
<g fill="#000"><ellipse cx="178.3" cy="806.2" rx="5.4" ry="4.7"/><ellipse cx="237.0" cy="776.7" rx="5.4" ry="4.7"/><ellipse cx="268.8" cy="782.5" rx="5.4" ry="4.7"/><ellipse cx="254.4" cy="805.6" rx="5.4" ry="4.7"/><ellipse cx="252.4" cy="811.4" rx="5.4" ry="4.7"/><ellipse cx="280.4" cy="817.8" rx="5.4" ry="4.7"/><ellipse cx="240.8" cy="842.0" rx="5.4" ry="4.7"/><ellipse cx="276.3" cy="835.6" rx="5.4" ry="4.7"/><ellipse cx="270.0" cy="847.5" rx="5.4" ry="4.7"/><ellipse cx="225.3" cy="853.0" rx="5.4" ry="4.7"/><ellipse cx="301.3" cy="794.7" rx="5.4" ry="4.7"/><ellipse cx="306.7" cy="794.7" rx="5.4" ry="4.7"/><ellipse cx="328.9" cy="788.4" rx="5.4" ry="4.7"/><ellipse cx="338.7" cy="794.7" rx="5.4" ry="4.7"/><ellipse cx="338.7" cy="800.0" rx="5.4" ry="4.7"/><ellipse cx="370.7" cy="765.3" rx="5.4" ry="4.7"/><ellipse cx="367.1" cy="776.9" rx="5.4" ry="4.7"/><ellipse cx="302.8" cy="747.2" rx="5.4" ry="4.7"/><ellipse cx="340.4" cy="741.3" rx="5.4" ry="4.7"/><ellipse cx="379.9" cy="747.2" rx="5.4" ry="4.7"/><ellipse cx="415.9" cy="723.1" rx="5.4" ry="4.7"/><ellipse cx="415.9" cy="729.6" rx="5.4" ry="4.7"/><ellipse cx="443.7" cy="723.1" rx="5.4" ry="4.7"/><ellipse cx="403.9" cy="747.2" rx="5.4" ry="4.7"/><ellipse cx="445.1" cy="687.6" rx="5.4" ry="4.7"/><ellipse cx="455.4" cy="687.6" rx="5.4" ry="4.7"/><ellipse cx="491.3" cy="646.3" rx="5.4" ry="4.7"/><ellipse cx="487.4" cy="664.1" rx="5.4" ry="4.7"/><ellipse cx="488.9" cy="700.2" rx="5.4" ry="4.7"/><ellipse cx="509.0" cy="658.1" rx="5.4" ry="4.7"/><ellipse cx="618.8" cy="551.5" rx="5.4" ry="4.7"/><ellipse cx="617.0" cy="557.5" rx="5.4" ry="4.7"/><ellipse cx="607.9" cy="575.3" rx="5.4" ry="4.7"/><ellipse cx="596.3" cy="581.0" rx="5.4" ry="4.7"/><ellipse cx="590.6" cy="598.5" rx="5.4" ry="4.7"/><ellipse cx="570.3" cy="569.5" rx="5.4" ry="4.7"/><ellipse cx="517.3" cy="581.0" rx="5.4" ry="4.7"/><ellipse cx="560.7" cy="592.6" rx="5.4" ry="4.7"/><ellipse cx="578.0" cy="592.6" rx="5.4" ry="4.7"/><ellipse cx="553.0" cy="598.4" rx="5.4" ry="4.7"/><ellipse cx="560.7" cy="605.1" rx="5.4" ry="4.7"/><ellipse cx="572.2" cy="605.1" rx="5.4" ry="4.7"/><ellipse cx="535.6" cy="622.4" rx="5.4" ry="4.7"/><ellipse cx="515.4" cy="635.0" rx="5.4" ry="4.7"/><ellipse cx="556.8" cy="646.5" rx="5.4" ry="4.7"/><ellipse cx="521.2" cy="676.2" rx="5.4" ry="4.7"/><ellipse cx="607.4" cy="695.0" rx="5.4" ry="4.7"/><ellipse cx="574.3" cy="740.9" rx="5.4" ry="4.7"/><ellipse cx="538.7" cy="753.4" rx="5.4" ry="4.7"/></g>
<g fill="#fff" stroke="#000" stroke-width="1.4"><ellipse cx="87.0" cy="336.8" rx="4.55" ry="4.2"/><ellipse cx="101.6" cy="301.6" rx="4.55" ry="4.2"/><ellipse cx="126.9" cy="242.1" rx="4.55" ry="4.2"/><ellipse cx="140.5" cy="222.0" rx="4.55" ry="4.2"/><ellipse cx="143.0" cy="204.1" rx="4.55" ry="4.2"/><ellipse cx="157.5" cy="212.1" rx="4.55" ry="4.2"/><ellipse cx="166.8" cy="171.3" rx="4.55" ry="4.2"/><ellipse cx="172.8" cy="196.6" rx="4.55" ry="4.2"/><ellipse cx="185.7" cy="199.5" rx="4.55" ry="4.2"/><ellipse cx="196.5" cy="189.0" rx="4.55" ry="4.2"/><ellipse cx="197.3" cy="151.7" rx="4.55" ry="4.2"/><ellipse cx="212.9" cy="184.5" rx="4.55" ry="4.2"/><ellipse cx="230.7" cy="144.4" rx="4.55" ry="4.2"/><ellipse cx="228.5" cy="175.2" rx="4.55" ry="4.2"/><ellipse cx="241.2" cy="178.1" rx="4.55" ry="4.2"/><ellipse cx="267.8" cy="169.4" rx="4.55" ry="4.2"/><ellipse cx="283.1" cy="134.0" rx="4.55" ry="4.2"/><ellipse cx="286.0" cy="155.3" rx="4.55" ry="4.2"/><ellipse cx="298.8" cy="150.2" rx="4.55" ry="4.2"/><ellipse cx="310.5" cy="151.8" rx="4.55" ry="4.2"/><ellipse cx="313.5" cy="123.5" rx="4.55" ry="4.2"/><ellipse cx="325.6" cy="132.4" rx="4.55" ry="4.2"/><ellipse cx="339.5" cy="127.3" rx="4.55" ry="4.2"/><ellipse cx="341.5" cy="138.6" rx="4.55" ry="4.2"/><ellipse cx="356.0" cy="126.6" rx="4.55" ry="4.2"/><ellipse cx="368.4" cy="126.2" rx="4.55" ry="4.2"/><ellipse cx="368.6" cy="133.1" rx="4.55" ry="4.2"/><ellipse cx="383.5" cy="120.0" rx="4.55" ry="4.2"/><ellipse cx="399.0" cy="124.9" rx="4.55" ry="4.2"/><ellipse cx="399.0" cy="132.2" rx="4.55" ry="4.2"/><ellipse cx="409.4" cy="114.4" rx="4.55" ry="4.2"/><ellipse cx="425.7" cy="125.0" rx="4.55" ry="4.2"/><ellipse cx="425.7" cy="130.7" rx="4.55" ry="4.2"/><ellipse cx="452.6" cy="112.7" rx="4.55" ry="4.2"/><ellipse cx="480.7" cy="125.8" rx="4.55" ry="4.2"/><ellipse cx="479.9" cy="131.5" rx="4.55" ry="4.2"/><ellipse cx="550.7" cy="114.0" rx="4.55" ry="4.2"/><ellipse cx="566.7" cy="120.2" rx="4.55" ry="4.2"/><ellipse cx="565.8" cy="122.9" rx="4.55" ry="4.2"/><ellipse cx="565.8" cy="144.2" rx="4.55" ry="4.2"/><ellipse cx="651.1" cy="114.0" rx="4.55" ry="4.2"/><ellipse cx="652.0" cy="120.2" rx="4.55" ry="4.2"/><ellipse cx="649.3" cy="125.6" rx="4.55" ry="4.2"/><ellipse cx="652.0" cy="145.1" rx="4.55" ry="4.2"/></g>
<g fill="#fff" stroke="#000" stroke-width="1.4"><ellipse cx="235.1" cy="818.2" rx="4.55" ry="4.2"/><ellipse cx="267.9" cy="818.2" rx="4.55" ry="4.2"/><ellipse cx="242.8" cy="853.6" rx="4.55" ry="4.2"/><ellipse cx="223.9" cy="859.8" rx="4.55" ry="4.2"/><ellipse cx="229.3" cy="865.6" rx="4.55" ry="4.2"/><ellipse cx="268.9" cy="865.6" rx="4.55" ry="4.2"/><ellipse cx="304.9" cy="806.2" rx="4.55" ry="4.2"/><ellipse cx="337.8" cy="811.6" rx="4.55" ry="4.2"/><ellipse cx="340.4" cy="817.8" rx="4.55" ry="4.2"/><ellipse cx="384.0" cy="800.9" rx="4.55" ry="4.2"/><ellipse cx="377.8" cy="817.8" rx="4.55" ry="4.2"/><ellipse cx="306.7" cy="841.8" rx="4.55" ry="4.2"/><ellipse cx="310.2" cy="848.0" rx="4.55" ry="4.2"/><ellipse cx="332.4" cy="841.8" rx="4.55" ry="4.2"/><ellipse cx="372.4" cy="853.9" rx="4.55" ry="4.2"/><ellipse cx="412.2" cy="776.9" rx="4.55" ry="4.2"/><ellipse cx="424.3" cy="776.9" rx="4.55" ry="4.2"/><ellipse cx="461.3" cy="776.9" rx="4.55" ry="4.2"/><ellipse cx="459.4" cy="788.9" rx="4.55" ry="4.2"/><ellipse cx="499.3" cy="740.7" rx="4.55" ry="4.2"/><ellipse cx="489.1" cy="753.7" rx="4.55" ry="4.2"/><ellipse cx="494.6" cy="788.9" rx="4.55" ry="4.2"/><ellipse cx="457.6" cy="812.0" rx="4.55" ry="4.2"/><ellipse cx="478.0" cy="818.5" rx="4.55" ry="4.2"/><ellipse cx="406.7" cy="829.6" rx="4.55" ry="4.2"/><ellipse cx="617.5" cy="652.3" rx="4.55" ry="4.2"/><ellipse cx="623.2" cy="681.6" rx="4.55" ry="4.2"/><ellipse cx="608.0" cy="687.5" rx="4.55" ry="4.2"/><ellipse cx="598.3" cy="693.5" rx="4.55" ry="4.2"/><ellipse cx="573.8" cy="699.0" rx="4.55" ry="4.2"/><ellipse cx="605.2" cy="700.4" rx="4.55" ry="4.2"/><ellipse cx="613.7" cy="699.2" rx="4.55" ry="4.2"/><ellipse cx="570.5" cy="705.3" rx="4.55" ry="4.2"/><ellipse cx="592.6" cy="722.6" rx="4.55" ry="4.2"/><ellipse cx="565.7" cy="739.9" rx="4.55" ry="4.2"/><ellipse cx="570.5" cy="746.7" rx="4.55" ry="4.2"/><ellipse cx="527.1" cy="759.2" rx="4.55" ry="4.2"/><ellipse cx="549.3" cy="759.2" rx="4.55" ry="4.2"/><ellipse cx="517.5" cy="794.8" rx="4.55" ry="4.2"/></g>
<g fill="#000"><path d="M81.9,319.3H92.1L87.0,327.9Z"/><path d="M81.9,324.8H92.1L87.0,333.4Z"/><path d="M81.9,331.4H92.1L87.0,340.0Z"/><path d="M108.4,274.6H118.6L113.5,283.2Z"/><path d="M135.6,234.7H145.8L140.7,243.3Z"/><path d="M167.6,207.1H177.8L172.7,215.7Z"/><path d="M191.7,202.6H201.9L196.8,211.2Z"/><path d="M191.4,188.6H201.6L196.5,197.2Z"/><path d="M223.4,187.1H233.6L228.5,195.7Z"/><path d="M223.4,177.3H233.6L228.5,185.9Z"/><path d="M253.2,167.4H263.4L258.3,176.0Z"/><path d="M280.5,164.0H290.7L285.6,172.6Z"/><path d="M306.1,157.3H316.3L311.2,165.9Z"/><path d="M332.5,153.8H342.7L337.6,162.4Z"/><path d="M338.4,151.4H348.6L343.5,160.0Z"/><path d="M364.5,133.0H374.7L369.6,141.6Z"/><path d="M364.5,154.1H374.7L369.6,162.7Z"/><path d="M392.1,142.8H402.3L397.2,151.4Z"/><path d="M391.4,146.3H401.6L396.5,154.9Z"/><path d="M421.4,150.1H431.6L426.5,158.7Z"/><path d="M476.5,147.7H486.7L481.6,156.3Z"/><path d="M560.7,134.7H570.9L565.8,143.3Z"/><path d="M560.7,142.7H570.9L565.8,151.3Z"/><path d="M560.7,151.6H570.9L565.8,160.2Z"/><path d="M645.1,134.7H655.3L650.2,143.3Z"/><path d="M645.1,144.5H655.3L650.2,153.1Z"/><path d="M207.8,171.8H218.0L212.9,180.4Z"/><path d="M447.1,149.3H457.3L452.2,157.9Z"/></g>
<g fill="#000"><path d="M263.7,802.4H273.9L268.8,811.0Z"/><path d="M220.9,832.4H231.1L226.0,841.0Z"/><path d="M237.7,832.4H247.9L242.8,841.0Z"/><path d="M264.3,832.4H274.5L269.4,841.0Z"/><path d="M224.8,856.3H235.0L229.9,864.9Z"/><path d="M230.5,856.3H240.7L235.6,864.9Z"/><path d="M299.8,784.2H310.0L304.9,792.8Z"/><path d="M335.3,802.9H345.5L340.4,811.5Z"/><path d="M378.0,786.0H388.2L383.1,794.6Z"/><path d="M373.6,790.5H383.8L378.7,799.1Z"/><path d="M305.1,826.0H315.3L310.2,834.6Z"/><path d="M301.6,856.2H311.8L306.7,864.8Z"/><path d="M327.3,850.0H337.5L332.4,858.6Z"/><path d="M367.3,835.8H377.5L372.4,844.4Z"/><path d="M407.1,755.1H417.3L412.2,763.7Z"/><path d="M418.2,765.8H428.4L423.3,774.4Z"/><path d="M455.3,768.0H465.5L460.4,776.6Z"/><path d="M454.3,772.7H464.5L459.4,781.3Z"/><path d="M484.0,731.0H494.2L489.1,739.6Z"/><path d="M494.2,749.5H504.4L499.3,758.1Z"/><path d="M489.5,781.9H499.7L494.6,790.5Z"/><path d="M452.5,820.8H462.7L457.6,829.4Z"/><path d="M472.9,832.8H483.1L478.0,841.4Z"/><path d="M401.6,851.4H411.8L406.7,860.0Z"/><path d="M612.7,637.0H622.9L617.8,645.6Z"/><path d="M618.2,660.6H628.4L623.3,669.2Z"/><path d="M593.1,672.8H603.3L598.2,681.4Z"/><path d="M599.1,701.1H609.3L604.2,709.7Z"/><path d="M565.4,710.7H575.6L570.5,719.3Z"/><path d="M565.4,718.4H575.6L570.5,727.0Z"/><path d="M608.7,734.8H618.9L613.8,743.4Z"/><path d="M561.5,738.6H571.7L566.6,747.2Z"/><path d="M522.0,743.4H532.2L527.1,752.0Z"/><path d="M587.5,756.0H597.7L592.6,764.6Z"/><path d="M569.2,771.4H579.4L574.3,780.0Z"/><path d="M544.2,787.7H554.4L549.3,796.3Z"/></g>
<g fill="#000"><ellipse cx="451.3" cy="220.9" rx="5.4" ry="4.7"/><path d="M446.2,261.0H456.4L451.3,269.6Z"/><ellipse cx="187.1" cy="574.3" rx="5.4" ry="4.7"/><path d="M182.0,612.4H192.2L187.1,621.0Z"/></g>
<g fill="#fff" stroke="#000" stroke-width="1.4"><ellipse cx="451.3" cy="242.7" rx="4.55" ry="4.2"/><ellipse cx="187.1" cy="594.8" rx="4.55" ry="4.2"/></g>
<g font-family="Liberation Sans, sans-serif" fill="#000" stroke="#000" stroke-width="0.3" font-size="18"><text transform="translate(70.6,396.0) scale(1.05,1)" text-anchor="end" >-5</text><text transform="translate(70.6,320.0) scale(1.05,1)" text-anchor="end" >0</text><text transform="translate(70.6,244.0) scale(1.05,1)" text-anchor="end" >5</text><g transform="translate(70.6,168.0) scale(1.05,1)"><text x="-20.02" y="0"> 0</text><path transform="translate(-20.02,0.00) scale(0.008789,-0.008789)" d="M583,0V1147Q420,1000 223,943V1117Q500,1240 640,1466H763V0Z" vector-effect="non-scaling-stroke"/></g><g transform="translate(70.6,92.0) scale(1.05,1)"><text x="-20.02" y="0"> 5</text><path transform="translate(-20.02,0.00) scale(0.008789,-0.008789)" d="M583,0V1147Q420,1000 223,943V1117Q500,1240 640,1466H763V0Z" vector-effect="non-scaling-stroke"/></g><text transform="translate(70.6,16.0) scale(1.05,1)" text-anchor="end" >20</text><text transform="translate(87.0,419.8) scale(1.05,1)" text-anchor="middle" >0</text><text transform="translate(228.1,419.8) scale(1.05,1)" text-anchor="middle" >500</text><g transform="translate(369.2,419.8) scale(1.05,1)"><text x="-20.02" y="0"> 000</text><path transform="translate(-20.02,0.00) scale(0.008789,-0.008789)" d="M583,0V1147Q420,1000 223,943V1117Q500,1240 640,1466H763V0Z" vector-effect="non-scaling-stroke"/></g><g transform="translate(510.4,419.8) scale(1.05,1)"><text x="-20.02" y="0"> 500</text><path transform="translate(-20.02,0.00) scale(0.008789,-0.008789)" d="M583,0V1147Q420,1000 223,943V1117Q500,1240 640,1466H763V0Z" vector-effect="non-scaling-stroke"/></g><text transform="translate(651.5,419.8) scale(1.05,1)" text-anchor="middle" >2000</text><text transform="translate(369.5,453.6) scale(1.1,1)" text-anchor="middle" >PAR</text><text transform="translate(72.3,877.1) scale(1.05,1)" text-anchor="end" >0</text><g transform="translate(72.3,818.0) scale(1.05,1)"><text x="-10.01" y="0"> </text><path transform="translate(-10.01,0.00) scale(0.008789,-0.008789)" d="M583,0V1147Q420,1000 223,943V1117Q500,1240 640,1466H763V0Z" vector-effect="non-scaling-stroke"/></g><text transform="translate(72.3,758.9) scale(1.05,1)" text-anchor="end" >2</text><text transform="translate(72.3,699.7) scale(1.05,1)" text-anchor="end" >3</text><text transform="translate(72.3,640.6) scale(1.05,1)" text-anchor="end" >4</text><text transform="translate(72.3,581.5) scale(1.05,1)" text-anchor="end" >5</text><text transform="translate(72.3,522.4) scale(1.05,1)" text-anchor="end" >6</text><g transform="translate(88.5,900.4) scale(1.05,1)"><text x="-10.01" y="0"> 5</text><path transform="translate(-10.01,0.00) scale(0.008789,-0.008789)" d="M583,0V1147Q420,1000 223,943V1117Q500,1240 640,1466H763V0Z" vector-effect="non-scaling-stroke"/></g><text transform="translate(182.6,900.4) scale(1.05,1)" text-anchor="middle" >20</text><text transform="translate(276.6,900.4) scale(1.05,1)" text-anchor="middle" >25</text><text transform="translate(370.6,900.4) scale(1.05,1)" text-anchor="middle" >30</text><text transform="translate(464.7,900.4) scale(1.05,1)" text-anchor="middle" >35</text><text transform="translate(558.8,900.4) scale(1.05,1)" text-anchor="middle" >40</text><text transform="translate(652.8,900.4) scale(1.05,1)" text-anchor="middle" >45</text><text transform="translate(516.6,226.6) scale(1.04,1)" text-anchor="start" >72-096</text><text transform="translate(516.6,248.2) scale(1.04,1)" text-anchor="start" >PS-SG</text><text transform="translate(516.6,270.4) scale(1.04,1)" text-anchor="start" >FS-SG</text><text transform="translate(253.0,580.2) scale(1.04,1)" text-anchor="start" >72-096</text><text transform="translate(253.0,601.4) scale(1.04,1)" text-anchor="start" >PS-SG</text><text transform="translate(253.0,621.6) scale(1.04,1)" text-anchor="start" >FS-SG</text><text transform="translate(330.0,932.0) scale(1.05,1)" text-anchor="start" >T<tspan dy="5">leaf</tspan><tspan dy="-5"> (°C)</tspan></text></g>
<g font-family="Liberation Sans, sans-serif" fill="#000" stroke="#000" stroke-width="0.3" font-size="18"><g transform="translate(25.5,292) scale(1.06,1) rotate(-90)"><text id="yl1" letter-spacing="-0.1">P<tspan dy="6">n</tspan><tspan dy="-6"> (µmol </tspan>CO<tspan dy="-9.5">2</tspan><tspan dy="9.5"> m</tspan><tspan dy="-9.5">-2</tspan><tspan dy="9.5"> s</tspan><tspan dy="-9.5">- </tspan><tspan dy="9.5">)</tspan></text><path transform="translate(168.42,-9.50) scale(0.008789,-0.008789)" d="M583,0V1147Q420,1000 223,943V1117Q500,1240 640,1466H763V0Z" vector-effect="non-scaling-stroke"/></g></g>
<g font-family="Liberation Sans, sans-serif" fill="#000" stroke="#000" stroke-width="0.3" font-size="18"><g transform="translate(44.3,840) scale(1.06,1) rotate(-90)"><text id="yl2" letter-spacing="-0.55">Dark respiration (mµmol CO<tspan dy="-9.5">2</tspan><tspan dy="9.5"> m</tspan><tspan dy="-9.5">-2</tspan><tspan dy="9.5"> s</tspan><tspan dy="-9.5">- </tspan><tspan dy="9.5">)</tspan></text><path transform="translate(271.49,-9.50) scale(0.008789,-0.008789)" d="M583,0V1147Q420,1000 223,943V1117Q500,1240 640,1466H763V0Z" vector-effect="non-scaling-stroke"/></g></g>
</svg>
</body></html>
